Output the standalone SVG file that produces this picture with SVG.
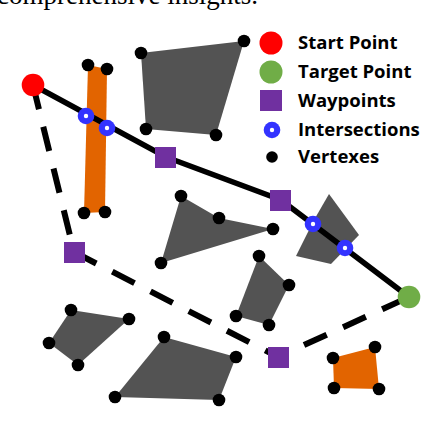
<svg xmlns="http://www.w3.org/2000/svg" width="446" height="442" viewBox="0 0 446 442">
<style>
.obs{fill:#535353}
.org{fill:#e26400}
.v{fill:#000}
.ix{fill:#3333ff}
.ixc{fill:#fff}
.wp{fill:#7030a0}
.solid{fill:none;stroke:#000;stroke-width:5.5}
.dash{fill:none;stroke:#000;stroke-width:6;stroke-dasharray:25 18}
.lg{font-family:"Open Sans","Liberation Sans",sans-serif;font-weight:bold;font-size:18.5px;fill:#000}
.cap{font-family:"Liberation Serif",serif;font-size:27px;fill:#000}
</style>
<defs>
<circle id="vx" r="6.3" class="v"/>
</defs>
<text class="cap" x="258" y="4" text-anchor="end">comprehensive insights.</text>
<g id="obstacles">
<polygon id="orange-bar" class="org" points="88,65 107,69 105,212 84,213"/>
<polygon id="obs-top" class="obs" points="141,53 244,41 216,135 146,129"/>
<polygon id="obs-tri" class="obs" points="181,196 219,218 273,229 161,263"/>
<polygon id="obs-mid" class="obs" points="259,256 289,285 269,325 236,316"/>
<polygon id="obs-small" class="obs" points="329,194 359,235 331,264 296,256 314,220"/>
<polygon id="obs-ll" class="obs" points="71,310 129,319 78,365 49,343"/>
<polygon id="obs-big" class="obs" points="164,337 236,357 219,400 115,397"/>
<polygon id="orange-sq" class="org" points="333,358 375,347 379,389 334,388"/>
</g>
<g id="connectors">
<polyline class="dash" points="33,85 74,252 278,357 409,297"/>
<polyline class="solid" points="33,85 166,157 281,200 409,297"/>
</g>
<g id="vertexes">
<use href="#vx" x="88" y="65"/><use href="#vx" x="107" y="69"/><use href="#vx" x="105" y="212"/><use href="#vx" x="84" y="213"/>
<use href="#vx" x="141" y="53"/><use href="#vx" x="244" y="41"/><use href="#vx" x="216" y="135"/><use href="#vx" x="146" y="129"/>
<use href="#vx" x="181" y="196"/><use href="#vx" x="219" y="218"/><use href="#vx" x="273" y="229"/><use href="#vx" x="161" y="263"/>
<use href="#vx" x="259" y="256"/><use href="#vx" x="289" y="285"/><use href="#vx" x="269" y="325"/><use href="#vx" x="236" y="316"/>
<use href="#vx" x="71" y="310"/><use href="#vx" x="129" y="319"/><use href="#vx" x="78" y="365"/><use href="#vx" x="49" y="343"/>
<use href="#vx" x="164" y="337"/><use href="#vx" x="236" y="357"/><use href="#vx" x="219" y="400"/><use href="#vx" x="115" y="397"/>
<use href="#vx" x="333" y="358"/><use href="#vx" x="375" y="347"/><use href="#vx" x="379" y="389"/><use href="#vx" x="334" y="388"/>
</g>
<g id="intersections">
<circle class="ix" cx="86" cy="116" r="8.3"/><circle class="ixc" cx="86" cy="116" r="2.2"/>
<circle class="ix" cx="107" cy="128" r="8.3"/><circle class="ixc" cx="107" cy="128" r="2.2"/>
<circle class="ix" cx="313" cy="224" r="8.3"/><circle class="ixc" cx="313" cy="224" r="2.2"/>
<circle class="ix" cx="345" cy="248" r="8.3"/><circle class="ixc" cx="345" cy="248" r="2.2"/>
</g>
<g id="waypoints">
<rect class="wp" x="155" y="147" width="21" height="21"/>
<rect class="wp" x="270" y="190" width="21" height="21"/>
<rect class="wp" x="64" y="242" width="21" height="21"/>
<rect class="wp" x="268" y="347" width="21" height="21"/>
</g>
<g id="start"><circle cx="33" cy="85" r="11.3" fill="#ff0000"/></g>
<g id="target"><circle cx="409" cy="297" r="11.3" fill="#70ad47"/></g>
<g id="legend">
<circle cx="271" cy="43" r="11.5" fill="#ff0000"/>
<circle cx="271" cy="72" r="11.5" fill="#70ad47"/>
<rect class="wp" x="260" y="90" width="22" height="21"/>
<circle class="ix" cx="272" cy="130" r="8.3"/><circle class="ixc" cx="272" cy="130" r="2.2"/>
<circle class="v" cx="272" cy="157" r="5.8"/>
<text class="lg" x="298" y="49">Start Point</text>
<text class="lg" x="298" y="78">Target Point</text>
<text class="lg" x="298" y="107">Waypoints</text>
<text class="lg" x="298" y="136">Intersections</text>
<text class="lg" x="298" y="163">Vertexes</text>
</g>
</svg>
